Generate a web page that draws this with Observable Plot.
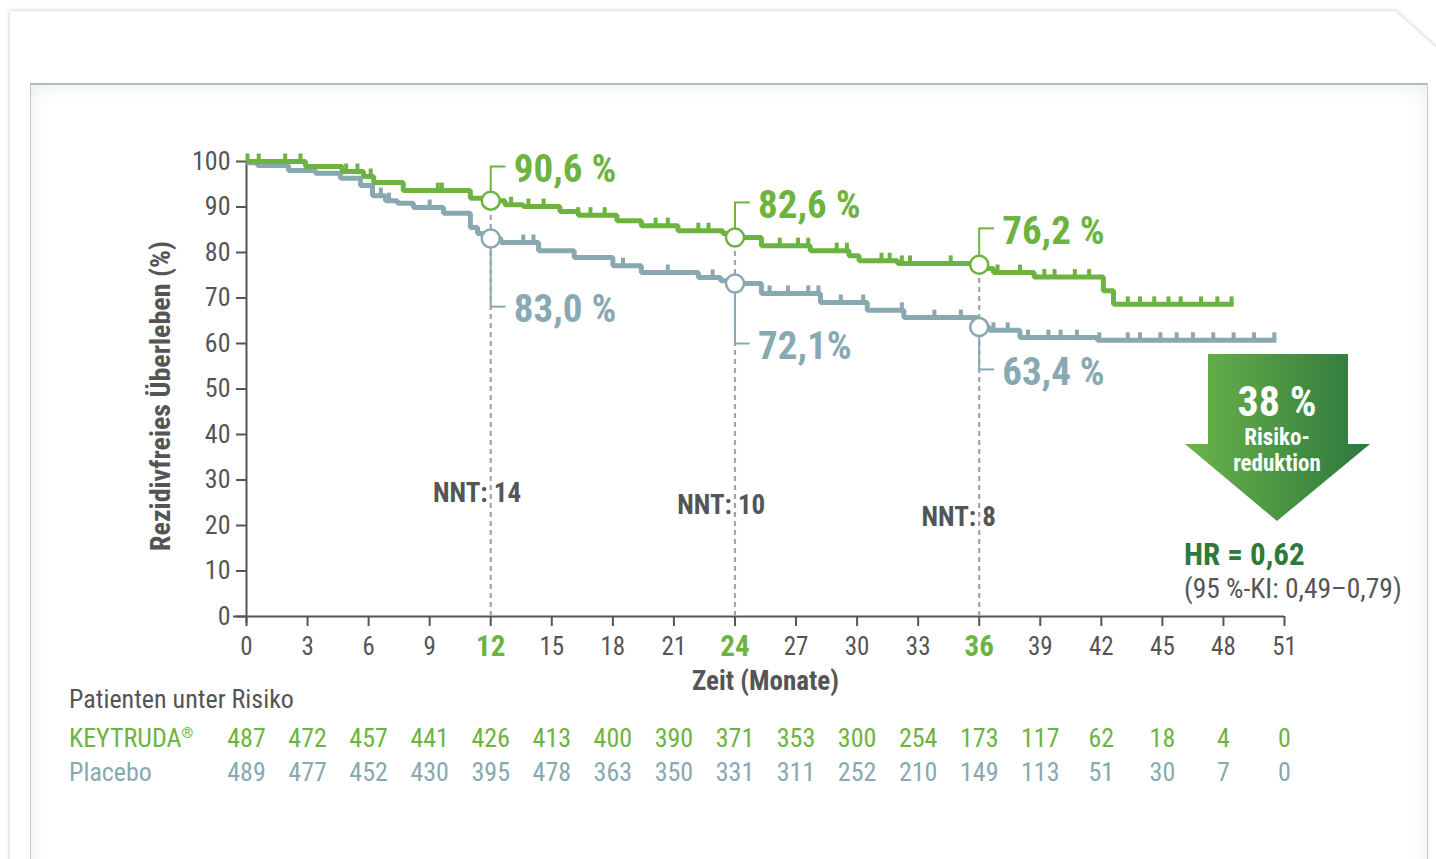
<!DOCTYPE html>
<html>
<head>
<meta charset="utf-8">
<script src="https://cdn.jsdelivr.net/npm/d3@7"></script>
<script src="https://cdn.jsdelivr.net/npm/@observablehq/plot@0.6"></script>
<style>
  html, body { margin: 0; padding: 0; background: #fff; width: 1436px; height: 859px; overflow: hidden;
    font-family: "Roboto Condensed", Roboto, sans-serif; }
  #cardwrap { position: absolute; left: 10px; top: 11px; width: 1460px; height: 900px;
    filter: drop-shadow(0 0 2px rgba(120,145,150,0.55)); }
  #card { position: absolute; left: 0; top: 0; width: 1460px; height: 900px; background: #fff;
    clip-path: polygon(0 0, 1385px 0, 1441px 50px, 1460px 50px, 1460px 900px, 0 900px); }
  #panel { position: absolute; left: 30px; top: 83px; width: 1396px; height: 800px; background: #fff;
    border-top: 2px solid #a9c0c5; border-left: 1px solid #b9cbcf; border-right: 1px solid #b9cbcf;
    box-shadow: inset 0 0 20px rgba(150,172,178,0.22); }
  .t { position: absolute; line-height: 1; white-space: nowrap; transform: translateY(-50%); }
  #chart { position: absolute; left: 0; top: 0; }
</style>
</head>
<body>
<div id="cardwrap"><div id="card"></div></div>
<div id="panel"></div>

<svg id="arrow" width="190" height="170" style="position:absolute;left:1185px;top:354px;overflow:visible">
  <defs>
    <linearGradient id="ag" x1="0" x2="1" y1="0" y2="0">
      <stop offset="0" stop-color="#6cb44a"/>
      <stop offset="1" stop-color="#2c773d"/>
    </linearGradient>
  </defs>
  <polygon points="23,0 163,0 163,90 185,90 92,167 0,90 23,90" fill="url(#ag)"/>
  <text x="92" y="47" text-anchor="middle" dominant-baseline="central" fill="#fff" font-weight="700" font-size="42">38 %</text>
  <text x="92" y="83" text-anchor="middle" dominant-baseline="central" fill="#fff" font-weight="700" font-size="23">Risiko-</text>
  <text x="92" y="109" text-anchor="middle" dominant-baseline="central" fill="#fff" font-weight="700" font-size="23">reduktion</text>
</svg>

<div class="t" style="left:1184px;top:554px;font-size:31px;font-weight:700;color:#2e7a3b">HR = 0,62</div>
<div class="t" style="left:1184px;top:589px;font-size:27.5px;color:#555">(95 %-KI: 0,49–0,79)</div>

<div class="t" style="left:69px;top:699px;font-size:26px;color:#555">Patienten unter Risiko</div>
<div class="t" style="left:69px;top:738px;font-size:26px;color:#6db33f">KEYTRUDA<sup style="font-size:15px;vertical-align:9px">®</sup></div>
<div class="t" style="left:69px;top:772px;font-size:26px;color:#88a9b1">Placebo</div>

<div id="chart"></div>

<script>
// ---------- data ----------
const xTicks = [0,3,6,9,12,15,18,21,24,27,30,33,36,39,42,45,48,51];
const yTicks = [0,10,20,30,40,50,60,70,80,90,100];
const landmarkMonths = [12, 24, 36];

// KEYTRUDA Kaplan-Meier steps (month, % relapse-free)
const keytrudaT = [0, 2.9, 4.7, 5.75, 6.25, 7.7, 11.0, 11.9, 12.7, 13.6, 15.4, 16.3, 18.2, 19.4, 21.2, 23.4, 23.9, 25.3, 27.7, 29.6, 30.1, 32.0, 35.8, 36.3, 36.7, 38.7, 42.1, 42.6, 48.5];
const keytrudaS = [100, 98.9, 97.8, 96.7, 95.4, 93.6, 91.9, 91.4, 90.5, 90.1, 89.0, 88.2, 87.0, 85.9, 84.8, 84.2, 83.3, 81.5, 80.4, 79.3, 78.2, 77.6, 77.3, 76.5, 75.6, 74.6, 71.6, 68.6, 68.6];
// Placebo Kaplan-Meier steps
const placeboT = [0, 0.54, 2.06, 3.39, 4.62, 5.6, 6.19, 6.83, 7.42, 8.2, 9.68, 11.0, 11.35, 11.8, 12.5, 14.35, 16.1, 18.0, 19.4, 22.2, 23.3, 23.9, 25.3, 28.2, 30.5, 32.3, 35.9, 36.5, 38.0, 41.8, 50.6];
const placeboS = [99.7, 99.1, 98.0, 97.4, 96.3, 94.7, 92.5, 91.4, 90.8, 89.9, 88.6, 85.5, 84.2, 83.1, 82.2, 80.4, 78.9, 77.1, 75.6, 74.5, 73.8, 73.2, 71.0, 69.0, 67.3, 65.7, 63.6, 62.9, 61.3, 60.7, 60.7];

// censoring marks (months)
const keytrudaCensor = [0.05, 0.6, 1.9, 2.65, 4.9, 5.45, 6.1, 7.7, 9.4, 9.6, 13.0, 13.85, 14.6, 16.3, 16.9, 17.6, 20.1, 20.7, 22.2, 22.7, 26.2, 27.1, 27.6, 29.0, 29.5, 31.2, 31.6, 32.2, 32.6, 34.6, 36.9, 38.0, 39.2, 39.7, 40.7, 41.4, 42.6, 43.3, 43.9, 44.6, 45.3, 45.9, 46.9, 47.7, 48.4];
const placeboCensor = [6.6, 7.0, 9.0, 13.6, 14.1, 18.5, 20.7, 22.9, 25.7, 26.6, 27.6, 28.1, 29.2, 30.3, 32.2, 33.8, 35.1, 36.7, 37.4, 38.4, 39.4, 40.0, 40.8, 41.9, 43.3, 43.9, 44.9, 45.7, 46.5, 47.5, 48.5, 49.5, 50.5];

// landmark labels
const keytrudaLabels = ["90,6 %", "82,6 %", "76,2 %"];
const placeboLabels = ["83,0 %", "72,1%", "63,4 %"];
const keytrudaLabelY = [98.9, 91.0, 85.3];
const placeboLabelY = [68.1, 60.0, 54.3];

// NNT annotations
const nntValues = ["14", "10", "8"];
const nntY = [27.0, 24.4, 21.8];

// patients at risk
const keytrudaAtRisk = [487, 472, 457, 441, 426, 413, 400, 390, 371, 353, 300, 254, 173, 117, 62, 18, 4, 0];
const placeboAtRisk = [489, 477, 452, 430, 395, 478, 363, 350, 331, 311, 252, 210, 149, 113, 51, 30, 7, 0];

// ---------- styling ----------
const GREEN = "#6db33f";
const GREY = "#88a9b1";
const TXT = "#555555";

// ---------- derived tables ----------
const stepAt = (T, S, t) => S[Math.max(0, d3.bisectRight(T, t) - 1)];
const keytruda = keytrudaT.map((t, i) => ({t, s: keytrudaS[i]}));
const placebo = placeboT.map((t, i) => ({t, s: placeboS[i]}));
const kCens = keytrudaCensor.map(t => ({t, s: stepAt(keytrudaT, keytrudaS, t)}));
const pCens = placeboCensor.map(t => ({t, s: stepAt(placeboT, placeboS, t)}));
const kMarks = landmarkMonths.map((t, i) => ({t, s: stepAt(keytrudaT, keytrudaS, t), ly: keytrudaLabelY[i], label: keytrudaLabels[i]}));
const pMarks = landmarkMonths.map((t, i) => ({t, s: stepAt(placeboT, placeboS, t), ly: placeboLabelY[i], label: placeboLabels[i]}));
const nnt = landmarkMonths.map((t, i) => ({t, y: nntY[i], n: nntValues[i]}));
const riskK = xTicks.map((t, i) => ({t, n: keytrudaAtRisk[i]}));
const riskP = xTicks.map((t, i) => ({t, n: placeboAtRisk[i]}));

const censorSymbol = {draw(ctx) { ctx.rect(-2, -8, 4, 8); }};

const chart = Plot.plot({
  width: 1436, height: 859,
  marginLeft: 246, marginRight: 152, marginTop: 161, marginBottom: 243,
  x: {domain: [0, 51]},
  y: {domain: [0, 100]},
  style: {fontFamily: '"Roboto Condensed", Roboto, sans-serif', overflow: "visible", background: "transparent", color: TXT},
  marks: [
    // axes
    Plot.axisY({ticks: yTicks, tickSize: 10, tickPadding: 6, fontSize: 26, label: null, stroke: TXT, strokeWidth: 2, fill: TXT}),
    Plot.axisX({ticks: xTicks, tickSize: 10, tickPadding: 11, fontSize: 25, label: null, stroke: TXT, strokeWidth: 2, fill: TXT,
      tickFormat: d => landmarkMonths.includes(d) ? "" : String(d)}),
    Plot.text(landmarkMonths, {x: d => d, y: 0, dy: 30, text: d => String(d), fontSize: 29, fontWeight: 700, fill: GREEN}),
    Plot.ruleX([0], {stroke: TXT, strokeWidth: 2, insetBottom: -7}),
    Plot.ruleY([0], {stroke: TXT, strokeWidth: 2, insetLeft: -13}),
    Plot.text(["Rezidivfreies Überleben (%)"], {frameAnchor: "left", textAnchor: "middle", lineAnchor: "middle", rotate: -90, dx: -85, dy: 7, fontSize: 28, fontWeight: 700, fill: TXT}),
    Plot.text(["Zeit (Monate)"], {frameAnchor: "bottom", lineAnchor: "middle", dy: 65, fontSize: 27, fontWeight: 700, fill: TXT}),

    // landmark dashed lines
    Plot.ruleX(kMarks, {x: "t", y1: 0, y2: "s", stroke: "#a3a3a3", strokeWidth: 2.2, strokeDasharray: "5,4"}),

    // NNT labels
    Plot.text(nnt, {x: "t", y: "y", text: () => "NNT:", textAnchor: "end", dx: -3, fontSize: 27, fontWeight: 700, fill: TXT}),
    Plot.text(nnt, {x: "t", y: "y", text: "n", textAnchor: "start", dx: 3, fontSize: 27, fontWeight: 700, fill: TXT}),

    // label connectors
    Plot.ruleX(kMarks, {x: "t", y1: "s", y2: "ly", stroke: GREEN, strokeWidth: 2}),
    Plot.ruleY(kMarks, {y: "ly", x1: "t", x2: d => d.t + 0.75, stroke: GREEN, strokeWidth: 2}),
    Plot.ruleX(pMarks, {x: "t", y1: "s", y2: "ly", stroke: GREY, strokeWidth: 2}),
    Plot.ruleY(pMarks, {y: "ly", x1: "t", x2: d => d.t + 0.75, stroke: GREY, strokeWidth: 2}),

    // curves
    Plot.line(placebo, {x: "t", y: "s", curve: "step-after", stroke: GREY, strokeWidth: 5, strokeLinejoin: "miter", strokeLinecap: "butt"}),
    Plot.dot(pCens, {x: "t", y: "s", symbol: censorSymbol, fill: GREY, stroke: null, r: 4}),
    Plot.line(keytruda, {x: "t", y: "s", curve: "step-after", stroke: GREEN, strokeWidth: 5, strokeLinejoin: "miter", strokeLinecap: "butt"}),
    Plot.dot(kCens, {x: "t", y: "s", symbol: censorSymbol, fill: GREEN, stroke: null, r: 4}),

    // landmark circles
    Plot.dot(pMarks, {x: "t", y: "s", r: 9, fill: "white", stroke: GREY, strokeWidth: 2.5}),
    Plot.dot(kMarks, {x: "t", y: "s", r: 9, fill: "white", stroke: GREEN, strokeWidth: 2.5}),

    // landmark labels
    Plot.text(kMarks, {x: "t", y: "ly", text: "label", textAnchor: "start", dx: 23, dy: 3, fontSize: 39, fontWeight: 700, fill: GREEN}),
    Plot.text(pMarks, {x: "t", y: "ly", text: "label", textAnchor: "start", dx: 23, dy: 3, fontSize: 39, fontWeight: 700, fill: GREY}),

    // patients at risk
    Plot.text(riskK, {x: "t", y: 0, dy: 122, text: "n", fontSize: 26, fill: GREEN}),
    Plot.text(riskP, {x: "t", y: 0, dy: 156, text: "n", fontSize: 26, fill: GREY})
  ]
});
document.getElementById("chart").appendChild(chart);
</script>
</body>
</html>
